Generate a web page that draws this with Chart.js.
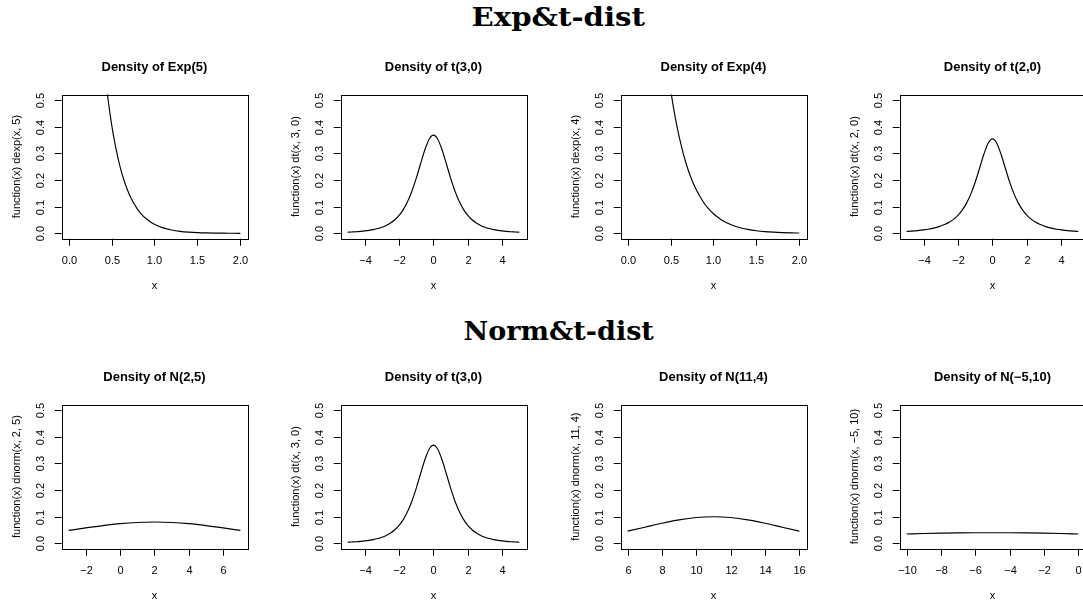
<!DOCTYPE html>
<html lang="en">
<head>
    <meta charset="UTF-8">
    <script src="https://cdn.jsdelivr.net/npm/chart.js"></script>
    <style>
        body {
            margin: 0;
            padding: 0;
            background: #fff;
            width: 1083px;
            height: 603px;
            overflow: hidden;
            position: relative;
        }
        .panel {
            position: absolute;
        }
        .maintitle {
            position: absolute;
            left: 0;
            width: 1117px;
            text-align: center;
            font-family: "DejaVu Serif", serif;
            font-weight: bold;
            font-size: 26px;
            line-height: 26px;
            color: #000;
        }
        .maintitle span {
            display: inline-block;
            transform-origin: center;
        }
    </style>
</head>
<body>
    <div class="maintitle" id="title1" style="top: 4px;"><span>Exp&amp;t-dist</span></div>
    <div class="maintitle" id="title2" style="top: 318px;"><span>Norm&amp;t-dist</span></div>

    <script>
        // curves
        const exp5X = [0.35, 0.4, 0.45, 0.5, 0.55, 0.6, 0.65, 0.7, 0.75, 0.8, 0.85, 0.9, 0.95, 1.0,
                       1.1, 1.2, 1.3, 1.4, 1.5, 1.6, 1.7, 1.8, 1.9, 2.0];
        const exp5Y = [0.869, 0.677, 0.527, 0.410, 0.320, 0.249, 0.194, 0.151, 0.118, 0.0916, 0.0713, 0.0555, 0.0433, 0.0337,
                       0.0204, 0.0124, 0.0075, 0.0046, 0.0028, 0.0017, 0.0010, 0.0006, 0.0004, 0.0002];

        const exp4X = [0.4, 0.45, 0.5, 0.55, 0.6, 0.65, 0.7, 0.75, 0.8, 0.85, 0.9, 0.95, 1.0,
                       1.1, 1.2, 1.3, 1.4, 1.5, 1.6, 1.7, 1.8, 1.9, 2.0];
        const exp4Y = [0.808, 0.661, 0.541, 0.443, 0.363, 0.297, 0.243, 0.199, 0.163, 0.134, 0.109, 0.0895, 0.0733,
                       0.0491, 0.0329, 0.0221, 0.0148, 0.0099, 0.0066, 0.0045, 0.0030, 0.0020, 0.0013];

        const tX = [-5, -4.75, -4.5, -4.25, -4, -3.75, -3.5, -3.25, -3, -2.75, -2.5, -2.25, -2, -1.75, -1.5, -1.25, -1, -0.75, -0.5, -0.25,
                    0, 0.25, 0.5, 0.75, 1, 1.25, 1.5, 1.75, 2, 2.25, 2.5, 2.75, 3, 3.25, 3.5, 3.75, 4, 4.25, 4.5, 4.75, 5];
        const t3Y = [0.0042, 0.0051, 0.0061, 0.0075, 0.0092, 0.0114, 0.0142, 0.0180, 0.0230, 0.0297, 0.0387, 0.0509, 0.0675, 0.0900, 0.1200, 0.1589, 0.2067, 0.2607, 0.3132, 0.3527,
                     0.3676, 0.3527, 0.3132, 0.2607, 0.2067, 0.1589, 0.1200, 0.0900, 0.0675, 0.0509, 0.0387, 0.0297, 0.0230, 0.0180, 0.0142, 0.0114, 0.0092, 0.0075, 0.0061, 0.0051, 0.0042];
        const t2Y = [0.0071, 0.0082, 0.0095, 0.0111, 0.0131, 0.0155, 0.0186, 0.0225, 0.0274, 0.0338, 0.0422, 0.0533, 0.0680, 0.0878, 0.1141, 0.1487, 0.1925, 0.2438, 0.2963, 0.3376,
                     0.3536, 0.3376, 0.2963, 0.2438, 0.1925, 0.1487, 0.1141, 0.0878, 0.0680, 0.0533, 0.0422, 0.0338, 0.0274, 0.0225, 0.0186, 0.0155, 0.0131, 0.0111, 0.0095, 0.0082, 0.0071];

        const n25X = [-3, -2, -1, 0, 1, 2, 3, 4, 5, 6, 7];
        const n25Y = [0.0484, 0.0579, 0.0666, 0.0737, 0.0782, 0.0798, 0.0782, 0.0737, 0.0666, 0.0579, 0.0484];

        const n114X = [6, 7, 8, 9, 10, 11, 12, 13, 14, 15, 16];
        const n114Y = [0.0457, 0.0605, 0.0753, 0.0880, 0.0967, 0.0997, 0.0967, 0.0880, 0.0753, 0.0605, 0.0457];

        const n510X = [-10, -9, -8, -7, -6, -5, -4, -3, -2, -1, 0];
        const n510Y = [0.0352, 0.0368, 0.0381, 0.0391, 0.0397, 0.0399, 0.0397, 0.0391, 0.0381, 0.0368, 0.0352];

        // tick values and labels
        const yTicks = [0, 0.1, 0.2, 0.3, 0.4, 0.5];
        const yTickLabels = ['0.0', '0.1', '0.2', '0.3', '0.4', '0.5'];
        const expTicks = [0, 0.5, 1, 1.5, 2];
        const expTickLabels = ['0.0', '0.5', '1.0', '1.5', '2.0'];
        const tTicks = [-4, -2, 0, 2, 4];
        const tTickLabels = ['\u22124', '\u22122', '0', '2', '4'];
        const n25Ticks = [-2, 0, 2, 4, 6];
        const n25TickLabels = ['\u22122', '0', '2', '4', '6'];
        const n114Ticks = [6, 8, 10, 12, 14, 16];
        const n114TickLabels = ['6', '8', '10', '12', '14', '16'];
        const n510Ticks = [-10, -8, -6, -4, -2, 0];
        const n510TickLabels = ['\u221210', '\u22128', '\u22126', '\u22124', '\u22122', '0'];

        const panels = [
            { title: 'Density of Exp(5)', ylab: 'function(x) dexp(x, 5)', xs: exp5X, ys: exp5Y, from: 0, to: 2, ticks: expTicks, labels: expTickLabels },
            { title: 'Density of t(3,0)', ylab: 'function(x) dt(x, 3, 0)', xs: tX, ys: t3Y, from: -5, to: 5, ticks: tTicks, labels: tTickLabels },
            { title: 'Density of Exp(4)', ylab: 'function(x) dexp(x, 4)', xs: exp4X, ys: exp4Y, from: 0, to: 2, ticks: expTicks, labels: expTickLabels },
            { title: 'Density of t(2,0)', ylab: 'function(x) dt(x, 2, 0)', xs: tX, ys: t2Y, from: -5, to: 5, ticks: tTicks, labels: tTickLabels },
            { title: 'Density of N(2,5)', ylab: 'function(x) dnorm(x, 2, 5)', xs: n25X, ys: n25Y, from: -3, to: 7, ticks: n25Ticks, labels: n25TickLabels },
            { title: 'Density of t(3,0)', ylab: 'function(x) dt(x, 3, 0)', xs: tX, ys: t3Y, from: -5, to: 5, ticks: tTicks, labels: tTickLabels },
            { title: 'Density of N(11,4)', ylab: 'function(x) dnorm(x, 11, 4)', xs: n114X, ys: n114Y, from: 6, to: 16, ticks: n114Ticks, labels: n114TickLabels },
            { title: 'Density of N(\u22125,10)', ylab: 'function(x) dnorm(x, \u22125, 10)', xs: n510X, ys: n510Y, from: -10, to: 0, ticks: n510Ticks, labels: n510TickLabels }
        ];

        const PANEL_W = 279.3, ROW_H = 310, CW = 279, CH = 300;
        const BOX = { left: 61.7, top: 94.5, right: 247.2, bottom: 238.7 };
        const SANS = '"Liberation Sans", Arial, Helvetica, sans-serif';

        // R-style box, ticks and labels drawn from the chart's own scales
        const rAxes = {
            id: 'rAxes',
            afterDraw(chart, args, opts) {
                const ctx = chart.ctx;
                const a = chart.chartArea;
                const sx = chart.scales.x, sy = chart.scales.y;
                const p = opts.panel;
                ctx.save();
                ctx.strokeStyle = '#000';
                ctx.fillStyle = '#000';
                ctx.lineWidth = 1;
                ctx.strokeRect(Math.round(a.left) + 0.5, Math.round(a.top) + 0.5,
                               Math.round(a.right - a.left), Math.round(a.bottom - a.top));

                // x axis
                ctx.font = '11px ' + SANS;
                ctx.textAlign = 'center';
                ctx.textBaseline = 'alphabetic';
                p.ticks.forEach((v, i) => {
                    const px = Math.round(sx.getPixelForValue(v)) + 0.5;
                    ctx.beginPath();
                    ctx.moveTo(px, a.bottom);
                    ctx.lineTo(px, a.bottom + 7);
                    ctx.stroke();
                    ctx.fillText(p.labels[i], px, 263.5);
                });
                ctx.fillText('x', (a.left + a.right) / 2, 289);

                // y axis
                yTicks.forEach((v, i) => {
                    const py = Math.round(sy.getPixelForValue(v)) + 0.5;
                    ctx.beginPath();
                    ctx.moveTo(a.left, py);
                    ctx.lineTo(a.left - 7, py);
                    ctx.stroke();
                    ctx.save();
                    ctx.translate(44, py);
                    ctx.rotate(-Math.PI / 2);
                    ctx.font = '11px ' + SANS;
                    ctx.fillText(yTickLabels[i], 0, 0);
                    ctx.restore();
                });
                ctx.save();
                ctx.translate(19.5, (a.top + a.bottom) / 2);
                ctx.rotate(-Math.PI / 2);
                ctx.font = '11px ' + SANS;
                ctx.fillText(p.ylab, 0, 0);
                ctx.restore();

                // panel title
                ctx.save();
                ctx.translate((a.left + a.right) / 2, 71);
                ctx.scale(1.08, 1);
                ctx.font = 'bold 12px ' + SANS;
                ctx.fillText(p.title, 0, 0);
                ctx.restore();
                ctx.restore();
            }
        };

        panels.forEach((p, k) => {
            const row = Math.floor(k / 4), col = k % 4;
            const cv = document.createElement('canvas');
            cv.className = 'panel';
            cv.width = CW;
            cv.height = CH;
            cv.style.left = (col * PANEL_W) + 'px';
            cv.style.top = (row * ROW_H) + 'px';
            cv.style.width = CW + 'px';
            cv.style.height = CH + 'px';
            document.body.appendChild(cv);

            const pad = (p.to - p.from) * 0.04;
            new Chart(cv, {
                type: 'line',
                data: {
                    datasets: [{
                        data: p.xs.map((x, i) => ({ x: x, y: p.ys[i] })),
                        borderColor: '#000',
                        borderWidth: 1.15,
                        pointRadius: 0,
                        fill: false,
                        cubicInterpolationMode: 'monotone'
                    }]
                },
                options: {
                    responsive: false,
                    animation: false,
                    events: [],
                    layout: {
                        padding: { left: BOX.left, top: BOX.top, right: CW - BOX.right, bottom: CH - BOX.bottom }
                    },
                    plugins: {
                        legend: { display: false },
                        tooltip: { enabled: false },
                        rAxes: { panel: p }
                    },
                    scales: {
                        x: { type: 'linear', min: p.from - pad, max: p.to + pad, display: false },
                        y: { type: 'linear', min: -0.02, max: 0.52, display: false }
                    }
                },
                plugins: [rAxes]
            });
        });

        // stretch the serif headings to the width seen in the picture
        [['title1', 173], ['title2', 190]].forEach(([id, w]) => {
            const s = document.querySelector('#' + id + ' span');
            s.style.transform = 'scaleX(' + (w / s.offsetWidth) + ')';
        });
    </script>
</body>
</html>
